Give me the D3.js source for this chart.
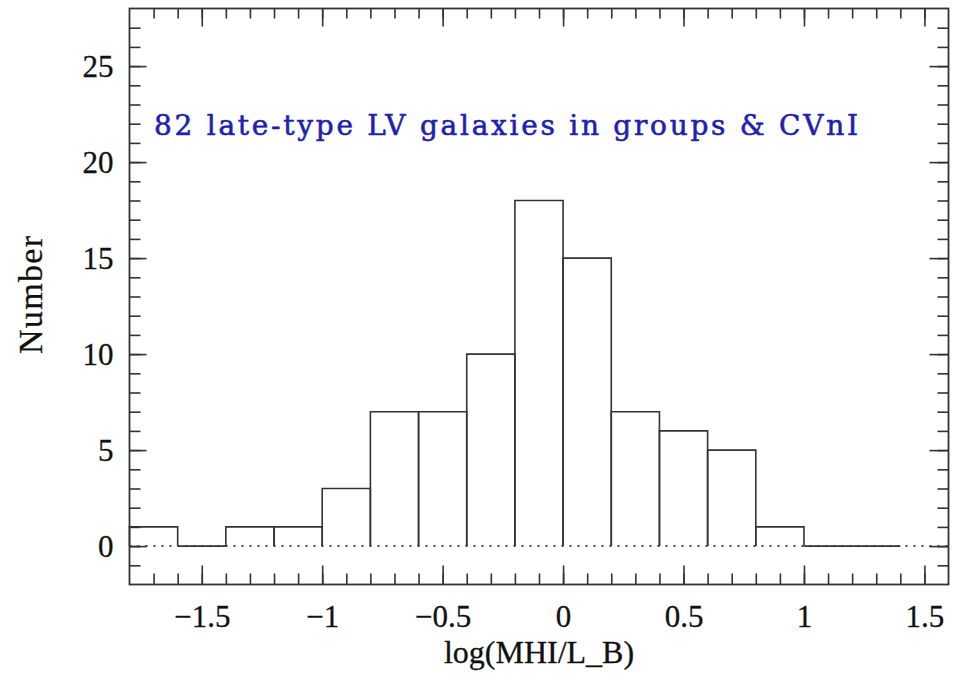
<!DOCTYPE html>
<html>
<head>
<meta charset="utf-8">
<script src="https://cdn.jsdelivr.net/npm/d3@7"></script>
<style>
  body { margin: 0; background: #fff; }
  svg { display: block; }
</style>
</head>
<body>
<div id="chart"></div>
<script>
// histogram of log(MHI/L_B), bin width 0.2
var binEdges = [-1.8, -1.6, -1.4, -1.2, -1.0, -0.8, -0.6, -0.4, -0.2, 0.0, 0.2, 0.4, 0.6, 0.8, 1.0, 1.2, 1.4];
var counts   = [1, 0, 1, 1, 3, 7, 7, 10, 18, 15, 7, 6, 5, 1, 0, 0];

var xMajor = [-1.5, -1, -0.5, 0, 0.5, 1, 1.5];
var yMajor = [0, 5, 10, 15, 20, 25];
var xLabel = "log(MHI/L_B)";
var yLabel = "Number";
var note = "82 late-type LV galaxies in groups & CVnI";

var width = 961, height = 674;
// plot box (window.top is reserved, so prefixed names)
var boxL = 129.5, boxR = 948.5, boxT = 8.5, boxB = 584.5;

var svg = d3.select("#chart").append("svg")
  .attr("width", width)
  .attr("height", height);

var x = d3.scaleLinear().domain([-1.8, 1.6]).range([boxL, boxR]);
var y = d3.scaleLinear().domain([-2, 28]).range([boxB, boxT]);

var xMinor = d3.range(-17, 16).map(function(d) { return d / 10; });
var yMinor = d3.range(-1, 28);

var ink = "#333";

// dotted zero line
svg.append("line")
  .attr("x1", boxL).attr("x2", boxR)
  .attr("y1", y(0)).attr("y2", y(0))
  .attr("stroke", "#444")
  .attr("stroke-width", 2)
  .attr("stroke-dasharray", "2,6");

// histogram outline
var bins = counts.map(function(c, i) { return {x0: binEdges[i], x1: binEdges[i + 1], n: c}; });
svg.append("g").selectAll("path")
  .data(bins)
  .enter().append("path")
  .attr("d", function(d) {
    if (d.n === 0) return "M" + x(d.x0) + "," + y(0) + "H" + x(d.x1);
    return "M" + x(d.x0) + "," + y(0) + "V" + y(d.n) + "H" + x(d.x1) + "V" + y(0);
  })
  .attr("fill", "none")
  .attr("stroke", ink)
  .attr("stroke-width", 1.6);

// inward ticks on all four sides
function tickAxis(axis, tr, size, vals, labels) {
  var g = svg.append("g")
    .attr("transform", tr)
    .call(axis.tickValues(vals).tickSizeInner(-size).tickSizeOuter(0)
      .tickFormat(labels ? function(d) { return String(d).replace("-", "\u2212"); } : ""));
  g.select(".domain").remove();
  g.selectAll("line").attr("stroke", ink).attr("stroke-width", 1.6);
  return g;
}

tickAxis(d3.axisBottom(x), "translate(0," + boxB + ")", 11, xMinor, false);
tickAxis(d3.axisTop(x), "translate(0," + boxT + ")", 10, xMinor, false);
tickAxis(d3.axisLeft(y), "translate(" + boxL + ",0)", 11, yMinor, false);
tickAxis(d3.axisRight(y), "translate(" + boxR + ",0)", 11, yMinor, false);

var gx = tickAxis(d3.axisBottom(x), "translate(0," + boxB + ")", 19, xMajor, true);
tickAxis(d3.axisTop(x), "translate(0," + boxT + ")", 18, xMajor, false);
var gy = tickAxis(d3.axisLeft(y), "translate(" + boxL + ",0)", 17, yMajor, true);
tickAxis(d3.axisRight(y), "translate(" + boxR + ",0)", 19, yMajor, false);

gx.selectAll("text")
  .attr("font-family", "'Liberation Serif', serif")
  .attr("font-size", 31)
  .attr("fill", "#111")
  .attr("stroke", "#111")
  .attr("stroke-width", 0.3)
  .attr("y", 20)
  .attr("dy", "0.71em");

gy.selectAll("text")
  .attr("font-family", "'Liberation Serif', serif")
  .attr("font-size", 31)
  .attr("fill", "#111")
  .attr("stroke", "#111")
  .attr("stroke-width", 0.3)
  .attr("x", -16)
  .attr("dy", "0.34em");

// frame
svg.append("rect")
  .attr("x", boxL).attr("y", boxT)
  .attr("width", boxR - boxL).attr("height", boxB - boxT)
  .attr("fill", "none")
  .attr("stroke", ink)
  .attr("stroke-width", 1.8);

// axis titles
svg.append("text")
  .attr("x", 539)
  .attr("y", 663)
  .attr("text-anchor", "middle")
  .attr("font-family", "'Liberation Serif', serif")
  .attr("font-size", 32)
  .attr("fill", "#111")
  .attr("stroke", "#111")
  .attr("stroke-width", 0.3)
  .text(xLabel);

svg.append("text")
  .attr("transform", "translate(42,295) rotate(-90)")
  .attr("text-anchor", "middle")
  .attr("font-family", "'Liberation Serif', serif")
  .attr("font-size", 34)
  .attr("fill", "#111")
  .attr("stroke", "#111")
  .attr("stroke-width", 0.3)
  .attr("textLength", 118)
  .attr("lengthAdjust", "spacing")
  .text(yLabel);

// annotation
svg.append("text")
  .attr("x", 154)
  .attr("y", 135)
  .attr("font-family", "'DejaVu Serif', serif")
  .attr("font-size", 28)
  .attr("fill", "#1f1fb0")
  .attr("stroke", "#1f1fb0")
  .attr("stroke-width", 0.6)
  .attr("textLength", 704)
  .attr("lengthAdjust", "spacing")
  .text(note);
</script>
</body>
</html>
